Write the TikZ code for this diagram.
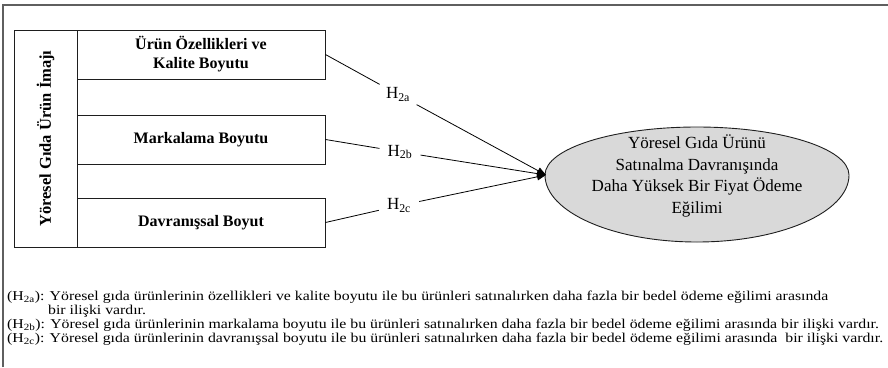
\documentclass[tikz,border=0pt]{standalone}
\usepackage{fontspec}
\setmainfont{Liberation Serif}
\newfontfamily\notefont[FakeStretch=1.17]{Liberation Serif}
\usetikzlibrary{arrows.meta}
\definecolor{framegray}{RGB}{95,95,95}
\definecolor{ovalfill}{RGB}{217,217,217}
\definecolor{inkline}{RGB}{30,30,30}
\begin{document}
\begin{tikzpicture}[x=1pt,y=-1pt,
  dimbox/.style={draw=inkline, line width=0.9pt, minimum width=248pt,
    minimum height=49pt, inner sep=0pt, align=center,
    font=\fontsize{16}{19}\selectfont\bfseries},
  hyp/.style={inner xsep=8pt, inner ysep=3pt,
    font=\fontsize{17}{18}\selectfont},
  link/.style={draw=black, line width=0.8pt,
    -{Triangle[length=9pt,width=7pt]}},
  note/.style={anchor=base west, inner sep=0pt,
    font=\notefont\fontsize{13.5}{14}\selectfont}]
\useasboundingbox (0,0) rectangle (888,367);

% outer frame
\draw[framegray, line width=1.5pt] (3,367) -- (3,5) -- (888,5);

% image block with its three dimensions
\node[draw=inkline, line width=0.9pt, minimum width=63pt,
  minimum height=217pt, inner sep=0pt] (img) at (45.5,138.5) {};
\node[rotate=90, font=\fontsize{16.5}{19}\selectfont\bfseries]
  (imgtitle) at (img.center) {Yöresel Gıda Ürün İmajı};
\node[dimbox] (b1) at (201,54.5) {Ürün Özellikleri ve\\Kalite Boyutu};
\node[dimbox] (b2) at (201,139.5) {Markalama Boyutu};
\node[dimbox] (b3) at (201,222.5) {Davranışsal Boyut};

% outcome oval (upper and lower halves differ in height)
\fill[ovalfill, draw=inkline, line width=0.9pt]
  (545,175) arc[start angle=180, end angle=0, x radius=152pt, y radius=48pt]
  arc[start angle=0, end angle=-180, x radius=152pt, y radius=67pt] -- cycle;
\node[align=center, font=\fontsize{17}{21.7}\selectfont] (goal)
  at (697,176) {Yöresel Gıda Ürünü\\Satınalma Davranışında\\Daha Yüksek Bir Fiyat Ödeme\\Eğilimi};
\coordinate (tip) at (546,175);

% hypothesis paths
\node[hyp] (h2a) at (398,94.5) {H\textsubscript{2a}};
\node[hyp] (h2b) at (400,151.8) {H\textsubscript{2b}};
\node[hyp] (h2c) at (399,205.7) {H\textsubscript{2c}};
\draw[link] (b1.east) -- (h2a) -- (tip);
\draw[link] (b2.east) -- (h2b) -- (tip);
\draw[link] (b3.east) -- (h2c) -- (tip);

% hypothesis statements
\node[note] (n1) at (7,300) {(H\textsubscript{2a}): Yöresel gıda ürünlerinin özellikleri ve kalite boyutu ile bu ürünleri satınalırken daha fazla bir bedel ödeme eğilimi arasında};
\node[note] (n1b) at (48,314) {bir ilişki vardır.};
\node[note] (n2) at (7,328) {(H\textsubscript{2b}): Yöresel gıda ürünlerinin markalama boyutu ile bu ürünleri satınalırken daha fazla bir bedel ödeme eğilimi arasında bir ilişki vardır.};
\node[note] (n3) at (7,342.5) {(H\textsubscript{2c}): Yöresel gıda ürünlerinin davranışsal boyutu ile bu ürünleri satınalırken daha fazla bir bedel ödeme eğilimi arasında\ \ bir ilişki vardır.};
\end{tikzpicture}
\end{document}
